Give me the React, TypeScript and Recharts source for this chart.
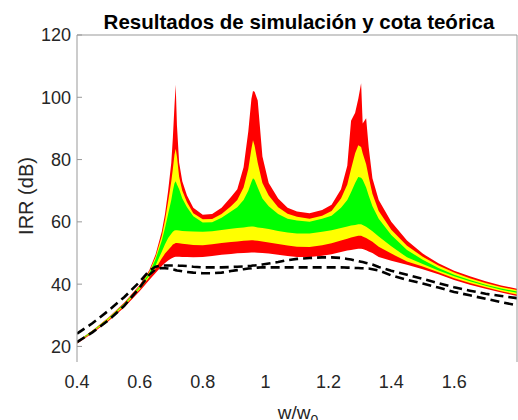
import React from 'react';
import { ComposedChart, Area, Line, XAxis, YAxis } from 'recharts';

const xs = [0.40,0.45,0.50,0.55,0.60,0.63,0.65,0.67,0.68,0.69,0.70,0.705,0.71,0.714,0.718,0.725,0.735,0.75,0.77,0.80,0.83,0.86,0.89,0.91,0.93,0.945,0.955,0.96,0.965,0.975,0.99,1.01,1.04,1.07,1.10,1.14,1.18,1.21,1.24,1.26,1.272,1.285,1.295,1.304,1.309,1.32,1.328,1.34,1.36,1.40,1.45,1.50,1.55,1.60,1.65,1.70,1.75,1.80];

const redHi = [21.6,25.2,29.3,34.0,39.8,44.5,49.5,57.0,62.5,70.0,79.0,87.0,97.0,104.0,91.0,79.0,73.0,68.5,64.5,62.3,62.5,64.5,68.0,70.5,77.5,89.0,99.5,102.0,101.8,99.0,81.0,72.5,67.5,64.5,63.3,62.8,63.8,65.5,70.5,78.0,92.5,95.0,99.5,104.5,91.6,93.3,84.0,74.0,67.0,60.0,54.0,49.8,46.7,44.3,42.5,40.9,39.6,38.5];
const yelHi = [21.5,25.1,29.2,33.8,39.5,44.0,48.8,55.5,60.5,66.5,73.0,77.0,81.5,83.5,81.0,74.5,70.0,66.3,62.8,60.8,60.9,62.5,65.0,67.0,71.0,77.0,83.5,86.2,84.5,79.0,72.5,68.5,64.7,62.6,61.6,61.0,62.0,63.5,67.5,72.0,77.0,82.0,84.6,84.0,82.0,78.5,74.5,69.0,63.5,57.5,52.3,48.8,46.0,43.7,41.9,40.4,39.1,38.1];
const grnHi = [21.4,25.0,29.0,33.6,39.2,43.5,48.0,54.0,58.0,62.5,67.0,70.0,72.3,73.0,72.0,70.5,67.5,64.7,61.8,59.8,59.9,61.3,63.3,64.7,67.0,70.0,72.8,74.0,73.5,71.0,67.5,65.0,62.5,61.0,60.4,60.0,61.0,62.0,64.5,67.0,69.5,72.5,74.4,74.2,73.5,71.0,68.5,65.0,61.0,55.8,51.0,47.8,45.2,43.0,41.3,39.8,38.6,37.6];
const grnLo = [21.2,24.8,28.8,33.3,38.8,42.8,46.0,50.5,52.8,54.8,56.2,56.8,57.2,57.3,57.3,57.2,57.1,57.0,56.9,56.8,57.0,57.4,57.8,58.0,58.2,58.4,58.5,58.5,58.4,58.2,58.0,57.7,57.1,56.6,56.3,56.3,56.8,57.3,58.0,58.5,58.8,59.0,59.2,59.2,59.0,58.4,57.9,57.0,55.3,52.2,48.6,46.5,44.4,42.5,40.9,39.5,38.2,37.2];
const yelLo = [21.1,24.6,28.5,33.0,38.4,42.2,45.0,48.3,49.8,51.0,52.1,52.7,53.0,53.2,53.2,53.1,53.0,52.8,52.6,52.5,52.8,53.2,53.5,53.7,53.9,54.0,54.1,54.1,54.0,53.9,53.7,53.4,52.9,52.4,52.0,51.9,52.5,53.1,54.0,54.6,55.0,55.3,55.5,55.5,55.3,54.8,54.3,53.6,52.0,49.8,47.3,45.7,43.8,41.9,40.4,39.0,37.7,36.7];
const redLo = [20.9,24.3,28.1,32.5,37.8,41.3,43.6,45.8,46.8,47.6,48.2,48.5,48.7,48.8,48.8,48.8,48.7,48.7,48.6,48.7,49.0,49.4,49.7,49.9,50.0,50.1,50.2,50.2,50.2,50.1,50.0,49.8,49.4,49.0,48.7,48.7,49.1,49.6,50.3,50.8,51.0,51.2,51.4,51.4,51.3,50.9,50.5,50.0,48.7,47.5,46.2,44.8,43.2,41.3,39.8,38.5,37.3,36.2];
const dashHi = [24.1,27.5,31.5,35.8,40.8,44.3,45.6,46.0,46.0,46.0,46.0,46.0,46.0,46.0,46.0,45.9,45.9,45.8,45.6,45.4,45.4,45.4,45.5,45.6,45.7,45.8,45.9,46.0,46.0,46.1,46.3,46.6,47.1,47.7,48.1,48.4,48.6,48.6,48.4,48.1,47.9,47.6,47.4,47.2,47.1,46.8,46.6,46.3,45.5,44.3,43.0,41.7,40.3,39.0,37.9,36.9,36.2,35.5];
const dashLo = [21.4,24.6,28.4,33.0,39.0,43.0,44.8,45.2,45.1,45.0,44.8,44.7,44.6,44.5,44.4,44.3,44.1,43.9,43.7,43.5,43.5,43.7,44.2,44.5,44.8,45.0,45.1,45.2,45.2,45.3,45.4,45.4,45.4,45.4,45.4,45.4,45.4,45.4,45.4,45.3,45.3,45.2,45.2,45.1,45.1,45.0,45.0,44.8,44.4,42.8,41.4,40.2,38.9,37.5,36.4,35.3,34.2,33.2];

const xTicks = [0.4, 0.6, 0.8, 1, 1.2, 1.4, 1.6];
const yTicks = [20, 40, 60, 80, 100, 120];

const TITLE = 'Resultados de simulación y cota teórica';
const Y_LABEL = 'IRR (dB)';

const data = xs.map((x, i) => ({
  x,
  red: [redLo[i], redHi[i]],
  yellow: [yelLo[i], yelHi[i]],
  green: [grnLo[i], grnHi[i]],
  dHi: dashHi[i],
  dLo: dashLo[i],
}));

const AXIS = '#999999';
const FONT = '"Liberation Sans", Arial, Helvetica, sans-serif';
const TICK = { fontSize: 18, fill: '#262626', fontFamily: FONT };

export default function App() {
  return (
    <div style={{ position: 'absolute', left: 0, top: 0, width: 518, height: 420, background: '#fff', overflow: 'hidden' }}>
      <ComposedChart width={518} height={420} data={data} margin={{ top: 34, right: 0, bottom: 28, left: 0 }}>
        <XAxis dataKey="x" type="number" domain={[0.4, 1.8]} ticks={xTicks} allowDataOverflow
          axisLine={false} tickLine={false} tick={TICK} height={30} tickMargin={7} interval={0} />
        <XAxis xAxisId="top" orientation="top" dataKey="x" type="number" domain={[0.4, 1.8]} ticks={xTicks} allowDataOverflow
          height={1} tick={false} tickSize={-5} axisLine={{ stroke: AXIS }} tickLine={{ stroke: AXIS }} interval={0} />
        <YAxis type="number" domain={[15, 120]} ticks={yTicks} allowDataOverflow width={77}
          tickSize={-5} tickMargin={11} axisLine={{ stroke: AXIS }} tickLine={{ stroke: AXIS }} tick={TICK} interval={0} />
        <YAxis yAxisId="right" orientation="right" type="number" domain={[15, 120]} ticks={yTicks} allowDataOverflow width={1}
          tickSize={-5} tick={false} axisLine={{ stroke: AXIS }} tickLine={{ stroke: AXIS }} interval={0} />
        <Area dataKey="red" type="linear" stroke="none" fill="#ff0000" fillOpacity={1} isAnimationActive={false} activeDot={false} />
        <Area dataKey="yellow" type="linear" stroke="none" fill="#ffff00" fillOpacity={1} isAnimationActive={false} activeDot={false} />
        <Area dataKey="green" type="linear" stroke="none" fill="#00ff00" fillOpacity={1} isAnimationActive={false} activeDot={false} />
        <Line dataKey="dHi" type="linear" stroke="#000" strokeWidth={2.6} strokeDasharray="9 5" dot={false} activeDot={false} isAnimationActive={false} />
        <Line dataKey="dLo" type="linear" stroke="#000" strokeWidth={2.6} strokeDasharray="9 5" dot={false} activeDot={false} isAnimationActive={false} />
      </ComposedChart>
      <svg width={518} height={420} style={{ position: 'absolute', left: 0, top: 0, pointerEvents: 'none' }}>
        <text x={299} y={29} textAnchor="middle" fontFamily={FONT} fontWeight="bold" fontSize={20.5} fill="#000">{TITLE}</text>
        <text transform="translate(33,196) rotate(-90)" textAnchor="middle" fontFamily={FONT} fontSize={20} fill="#262626">{Y_LABEL}</text>
        <text x={298} y={419} textAnchor="middle" fontFamily={FONT} fontSize={19} fill="#262626">w/w<tspan fontSize={14} dy={6}>0</tspan></text>
      </svg>
    </div>
  );
}
